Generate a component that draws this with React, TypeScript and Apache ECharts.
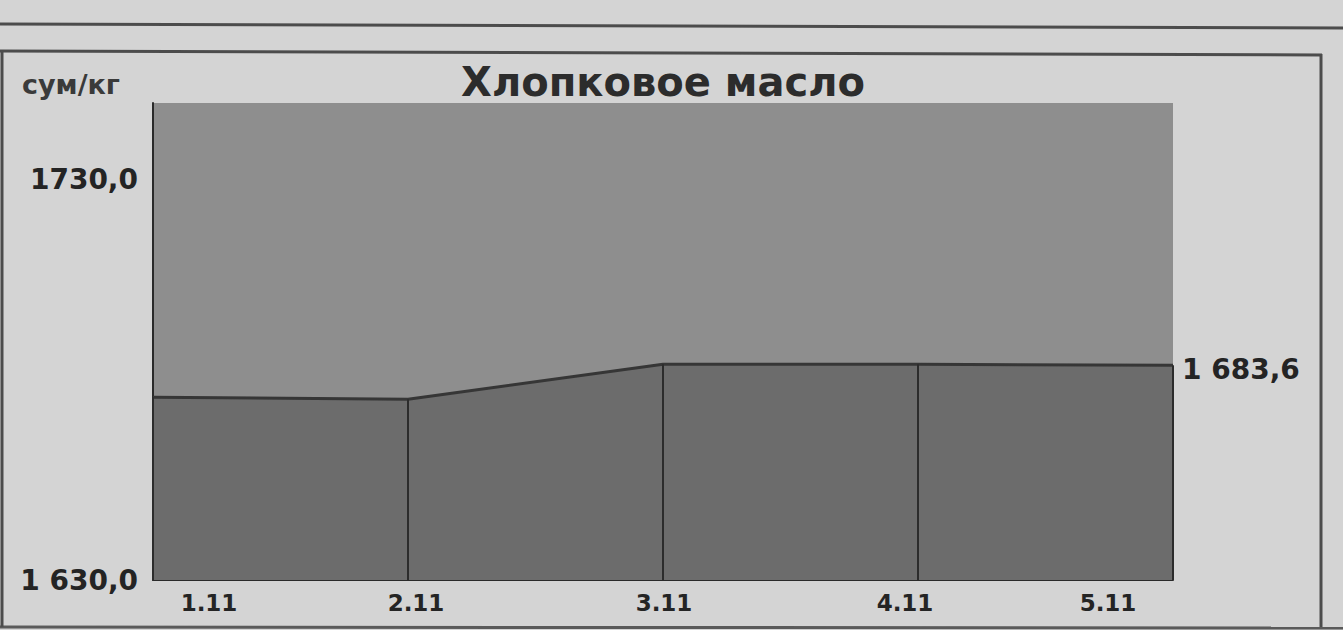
import React, { useEffect, useRef } from "react";
import * as echarts from "echarts";

const categories = ["1.11", "2.11", "3.11", "4.11", "5.11"];
const prices = [1675.6, 1675.1, 1683.8, 1683.8, 1683.6];
const yTickValues = [1630, 1730];
const yTickLabels = ["1 630,0", "1730,0"];
const yMin = 1630;
const yMax = 1749;
const titleText = "Хлопковое масло";
const unitText = "сум/кг";

const FONT = "'DejaVu Sans', 'Liberation Sans', sans-serif";
const TEXT = "#242424";

function fmt(v: number): string {
  const s = v.toFixed(1).replace(".", ",");
  const [i, d] = s.split(",");
  return i.replace(/\B(?=(\d{3})+(?!\d))/g, " ") + "," + d;
}

export default function App() {
  const ref = useRef<HTMLDivElement>(null);
  useEffect(() => {
    document.body.style.margin = "0";
    const chart = echarts.init(ref.current!, undefined, { renderer: "svg" });
    const labelShift = [
      [0, 0, 0, 112],
      [0, 0, 0, 16],
      [0, 0, 0, 2],
      [0, 26, 0, 0],
      [0, 130, 0, 0],
    ];
    const rich: Record<string, any> = {};
    labelShift.forEach((p, i) => {
      rich["l" + i] = {
        padding: p,
        fontSize: 23,
        fontWeight: "bold",
        fontFamily: FONT,
        color: TEXT,
      };
    });
    chart.setOption({
      animation: false,
      backgroundColor: "#d4d4d4",
      title: [
        {
          text: titleText,
          left: 663,
          textAlign: "center",
          top: 62,
          padding: 0,
          textStyle: { fontSize: 40, fontWeight: "bold", fontFamily: FONT, color: "#2c2c2c" },
        },
        {
          text: unitText,
          left: 22,
          top: 71,
          padding: 0,
          textStyle: { fontSize: 27, fontWeight: "bold", fontFamily: FONT, color: "#3a3a3a" },
        },
      ],
      grid: {
        left: 153,
        right: 170,
        top: 103,
        bottom: 50,
        show: true,
        backgroundColor: "#8e8e8e",
        borderWidth: 0,
      },
      xAxis: {
        type: "category",
        data: categories,
        boundaryGap: false,
        axisLine: { show: true, lineStyle: { color: "#2a2a2a", width: 2 } },
        axisTick: { show: false },
        splitLine: { show: false },
        axisLabel: {
          margin: 11,
          interval: 0,
          formatter: (v: string, i: number) => `{l${i}|${v}}`,
          rich,
        },
      },
      yAxis: {
        type: "value",
        min: yMin,
        max: yMax,
        interval: 100,
        axisLine: { show: true, lineStyle: { color: "#2a2a2a", width: 2 } },
        axisTick: { show: false },
        splitLine: { show: false },
        axisLabel: {
          margin: 15,
          showMaxLabel: false,
          fontSize: 28,
          fontWeight: "bold",
          fontFamily: FONT,
          color: TEXT,
          formatter: (v: number) => {
            const idx = yTickValues.indexOf(v);
            return idx >= 0 ? yTickLabels[idx] : "";
          },
        },
      },
      series: [
        {
          type: "line",
          data: prices,
          symbol: "none",
          z: 2,
          lineStyle: { color: "#363636", width: 3 },
          areaStyle: { color: "#6c6c6c", opacity: 1, origin: "start" },
          endLabel: {
            show: true,
            distance: 9,
            offset: [0, 4],
            formatter: (p: any) => fmt(p.value),
            fontSize: 28,
            fontWeight: "bold",
            fontFamily: FONT,
            color: TEXT,
          },
        },
        {
          type: "bar",
          data: prices,
          barWidth: 2,
          z: 3,
          itemStyle: { color: "#2c2c2c" },
        },
      ],
      graphic: [
        { type: "line", shape: { x1: 0, y1: 24, x2: 1343, y2: 28 }, style: { stroke: "#4c4c4c", lineWidth: 3 } },
        { type: "line", shape: { x1: 0, y1: 51, x2: 1322, y2: 55 }, style: { stroke: "#4c4c4c", lineWidth: 3 } },
        { type: "line", shape: { x1: 1321, y1: 54, x2: 1321, y2: 628 }, style: { stroke: "#4c4c4c", lineWidth: 3 } },
        { type: "line", shape: { x1: 0, y1: 627, x2: 1343, y2: 628 }, style: { stroke: "#5a5a5a", lineWidth: 3 } },
        { type: "line", shape: { x1: 2, y1: 51, x2: 2, y2: 627 }, style: { stroke: "#4c4c4c", lineWidth: 3 } },
      ],
    });
    return () => chart.dispose();
  }, []);
  return <div ref={ref} style={{ width: 1343, height: 630 }} />;
}
